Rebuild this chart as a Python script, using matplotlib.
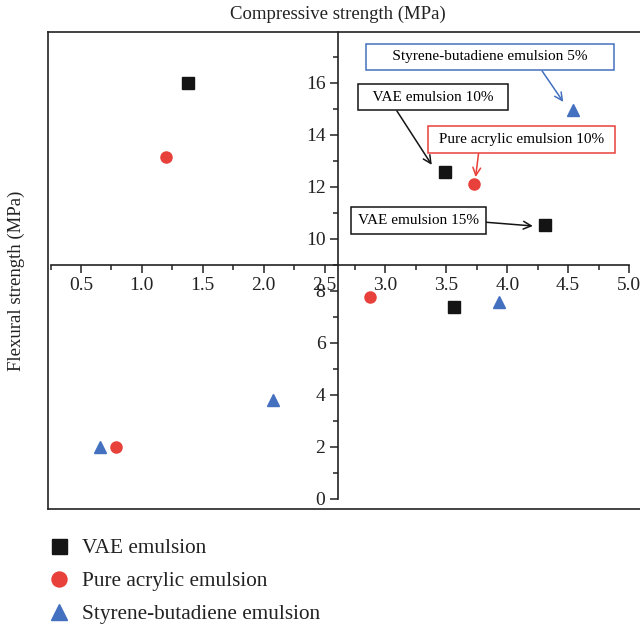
import matplotlib
matplotlib.use('Agg')
import numpy as np
import matplotlib.pyplot as plt
from matplotlib.ticker import MultipleLocator

plt.rcParams['font.family'] = ['Liberation Serif', 'DejaVu Serif']

# data (compressive, flexural)
vae_x = [1.38, 3.49, 4.31, 3.56]
vae_y = [16.0, 12.58, 10.53, 7.38]
acr_x = [1.20, 3.73, 2.87, 0.79]
acr_y = [13.15, 12.12, 7.77, 2.0]
sbr_x = [4.54, 3.93, 2.08, 0.66]
sbr_y = [14.96, 7.58, 3.81, 2.0]

series_names = ["VAE emulsion", "Pure acrylic emulsion", "Styrene-butadiene emulsion"]
colors = ['#141414', '#E8403A', '#4470C0']
markers = ['s', 'o', '^']

# annotation: label, target point, text centre, arrow start on box
notes = [
    ("     Styrene-butadiene emulsion 5%     ", (4.46, 15.27), (3.86, 17.0), (0.70, 0.0), colors[2]),
    ("  VAE emulsion 10%  ", (3.38, 12.85), (3.39, 15.46), (0.20, 0.0), colors[0]),
    (" Pure acrylic emulsion 10% ", (3.74, 12.38), (4.12, 13.83), (0.255, 0.0), colors[1]),
    ("VAE emulsion 15%", (4.21, 10.50), (3.27, 10.71), (1.0, 0.41), colors[0]),
]

fig = plt.figure(figsize=(6.4, 6.27), dpi=100)
rect = [48 / 640, 1 - 509 / 627, 592 / 640, (509 - 32) / 627]

# outer frame
frame = fig.add_axes(rect)
frame.set_xticks([])
frame.set_yticks([])
frame.spines['right'].set_visible(False)
for s in ['left', 'top', 'bottom']:
    frame.spines[s].set_linewidth(1.2)
    frame.spines[s].set_color('#222222')

ax = fig.add_axes(rect)
ax.patch.set_visible(False)
ax.set_xlim(0.229, 5.09)
ax.set_ylim(-0.385, 17.96)

ax.spines['right'].set_visible(False)
ax.spines['top'].set_visible(False)
ax.spines['left'].set_position(('data', 2.61))
ax.spines['bottom'].set_position(('data', 9))
ax.spines['left'].set_bounds(0, 17.96)
ax.spines['bottom'].set_bounds(0.25, 5.0)
for s in ['left', 'bottom']:
    ax.spines[s].set_linewidth(1.2)
    ax.spines[s].set_color('#222222')

ax.set_xticks(np.arange(0.5, 5.01, 0.5))
ax.set_xticklabels([f"{v:.1f}" for v in np.arange(0.5, 5.01, 0.5)])
ax.xaxis.set_minor_locator(MultipleLocator(0.25))
ax.set_yticks(np.arange(0, 17, 2))
ax.yaxis.set_minor_locator(MultipleLocator(1))
ax.tick_params(axis='both', which='major', direction='out', length=6, width=1.1,
               labelsize=14, colors='#222222', pad=3)
ax.tick_params(axis='both', which='minor', direction='out', length=3.5, width=1.1,
               colors='#222222')

for xs, ys, name, c, m in zip([vae_x, acr_x, sbr_x], [vae_y, acr_y, sbr_y],
                              series_names, colors, markers):
    ax.plot(xs, ys, linestyle='none', marker=m, color=c,
            markersize=9 if m == '^' else 8, label=name, clip_on=False)

for label, xy, xytext, rp, c in notes:
    ax.annotate(label, xy=xy, xytext=xytext, ha='center', va='center', fontsize=11,
                bbox=dict(boxstyle='square,pad=0.45', fc='white', ec=c, lw=1.1),
                arrowprops=dict(arrowstyle='->', color=c, lw=1.1, relpos=rp,
                                shrinkA=0, shrinkB=0, mutation_scale=14))

fig.text(338 / 640, 1 - 14 / 627, "Compressive strength (MPa)", ha='center', va='center',
         fontsize=13.5, color='#222222')
fig.text(16 / 640, 1 - 281 / 627, "Flexural strength (MPa)", ha='center', va='center',
         rotation=90, fontsize=13.5, color='#222222')

handles, labels = ax.get_legend_handles_labels()
leg = fig.legend(handles, labels, loc='upper left', bbox_to_anchor=(40 / 640, 1 - 530 / 627),
                 frameon=False, fontsize=15.3, markerscale=1.35, handlelength=1.0,
                 handletextpad=0.6, labelspacing=0.62, borderaxespad=0)
for t in leg.get_texts():
    t.set_color('#222222')

fig.savefig('out.png', dpi=100)
